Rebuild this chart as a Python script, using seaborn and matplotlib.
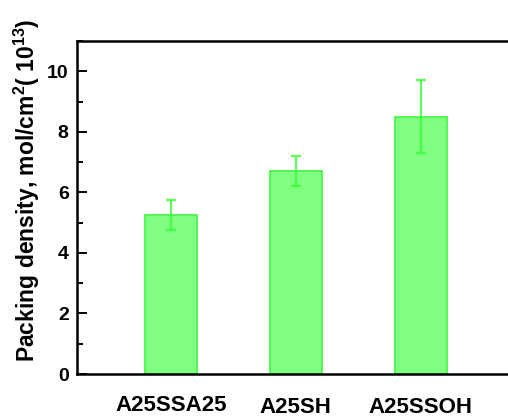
import matplotlib
matplotlib.use("Agg")
import matplotlib.pyplot as plt
from matplotlib.ticker import MultipleLocator
import seaborn as sns
import pandas as pd

samples = ["A25SSA25", "A25SH", "A25SSOH"]
density = [5.25, 6.7, 8.5]
density_err = [0.5, 0.5, 1.2]

sns.set_theme(style="white")
plt.rcParams["font.family"] = ["Liberation Sans", "DejaVu Sans"]
plt.rcParams["font.weight"] = "bold"
plt.rcParams["mathtext.default"] = "bf"
plt.rcParams["mathtext.fontset"] = "custom"
plt.rcParams["mathtext.bf"] = "Liberation Sans:bold"
plt.rcParams["text.color"] = "black"
plt.rcParams["axes.labelcolor"] = "black"
plt.rcParams["xtick.color"] = "black"
plt.rcParams["ytick.color"] = "black"

df = pd.DataFrame({"sample": samples, "density": density})

fig = plt.figure(figsize=(5.08, 4.19), dpi=100)
ax = fig.add_axes([77 / 508, 1 - 374 / 419, 437.5 / 508, (374 - 41) / 419])

sns.barplot(data=df, x="sample", y="density", ax=ax, errorbar=None,
            color="#80FF80", saturation=1, width=0.42,
            edgecolor="#48F848", linewidth=1.3)
ax.errorbar(range(len(samples)), density, yerr=density_err, fmt="none",
            ecolor="#33FF33", alpha=0.8, elinewidth=1.6, capsize=3.5,
            capthick=1.6, zorder=3)

ax.set_xlim(-0.75, 2.75)
ax.set_ylim(0, 11)
ax.yaxis.set_major_locator(MultipleLocator(2))
ax.yaxis.set_minor_locator(MultipleLocator(1))
ax.tick_params(axis="y", which="major", direction="in", length=7, width=1.4,
               left=True, labelsize=14, pad=6)
ax.tick_params(axis="y", which="minor", direction="in", length=4, width=1.4,
               left=True)
ax.tick_params(axis="x", length=0, labelsize=16, pad=15)
for lbl in ax.get_yticklabels():
    lbl.set_fontweight("bold")
for i, lbl in enumerate(ax.get_xticklabels()):
    lbl.set_fontweight("bold")
    if i > 0:
        lbl.set_y(-0.006)

ax.set_xlabel("")
ax.set_ylabel("Packing density, mol/cm$^{2}$( 10$^{13}$)",
              fontsize=16.5, fontweight="bold")
ax.yaxis.set_label_coords(-0.081, 0.553)

for side in ["left", "top", "bottom", "right"]:
    ax.spines[side].set_visible(True)
    ax.spines[side].set_color("black")
    ax.spines[side].set_linewidth(1.8)

fig.savefig("out.png", dpi=100)
